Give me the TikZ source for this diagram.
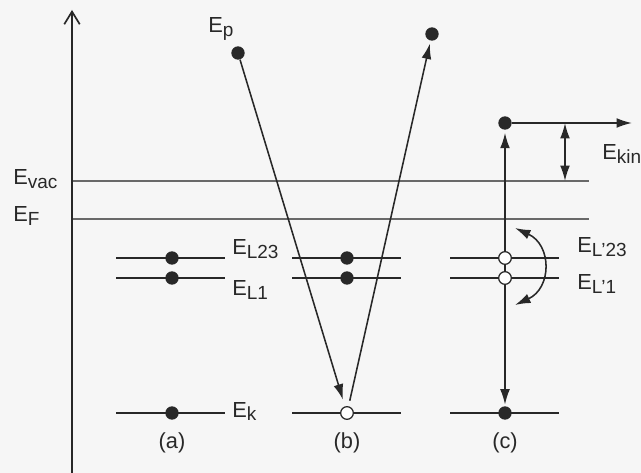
\documentclass[tikz,border=0pt]{standalone}
\usepackage{fontspec}
\setmainfont{Liberation Sans}
\usetikzlibrary{arrows.meta}
\definecolor{ink}{RGB}{40,40,40}
\definecolor{inkmuted}{RGB}{105,105,105}
\definecolor{paper}{RGB}{246,246,246}
\newcommand\lvl[1]{E\raisebox{-2.8pt}{\fontsize{13.5}{15}\selectfont #1}}

\begin{document}
\begin{tikzpicture}[x=0.025cm, y=-0.025cm, font=\fontsize{15.5}{18}\selectfont, ink,
  level/.style={line width=1.4pt},
  dot/.style={circle, fill=ink, inner sep=0pt, minimum size=9.5pt},
  hole/.style={circle, draw=ink, fill=white, line width=0.9pt, inner sep=0pt, minimum size=9pt},
  lab/.style={anchor=base west, inner sep=0pt},
  tip/.style={line width=1.1pt, -{Latex[length=11pt,width=7pt]}},
  dbl/.style={line width=1.1pt, {Latex[length=11pt,width=7pt]}-{Latex[length=11pt,width=7pt]}}]
  \fill[paper] (0,0) rectangle (641,473);
  \useasboundingbox (0,0) rectangle (641,473);
  % energy axis
  \draw[line width=1.2pt, -{Straight Barb[length=9pt,width=11pt]}] (72,473) -- (72,10);
  \draw[inkmuted, line width=0.9pt] (73,181) -- (589,181);
  \draw[inkmuted, line width=0.9pt] (73,219) -- (589,219);
  \node[lab] (vac) at (13,185) {\lvl{vac}};
  \node[lab] (fermi) at (13,222) {\lvl{F}};
  % core levels of the three steps
  \foreach \x in {116,292,450}
    \foreach \y in {258,278,413}
      \draw[level] (\x,\y) -- ++(109,0);
  \node[dot] (aL23) at (172,258) {};
  \node[dot] (aL1) at (172,278) {};
  \node[dot] (ak) at (172,413) {};
  \node[dot] (bL23) at (347,258) {};
  \node[dot] (bL1) at (347,278) {};
  \node[hole] (bk) at (347,413) {};
  \node[hole] (cL23) at (505,258) {};
  \node[hole] (cL1) at (505,278) {};
  \node[dot] (ck) at (505,413) {};
  \node[lab] (l23) at (232,255) {\lvl{L23}};
  \node[lab] (l1) at (232,296) {\lvl{L1}};
  \node[lab] (k) at (232,417) {\lvl{k}};
  \node[lab] (lp23) at (577,253) {\lvl{L'23}};
  \node[lab] (lp1) at (577,290) {\lvl{L'1}};
  % (b) primary electron in, scattered out
  \node[dot] (p) at (238,53) {};
  \node[lab] (plab) at (208,33) {\lvl{p}};
  \node[dot] (bout) at (432,34) {};
  \draw[tip, shorten >=5pt] (p) -- (bk);
  \draw[tip, shorten <=4pt, shorten >=2pt] (bk) -- (bout);
  % (c) Auger electron
  \node[dot] (cout) at (505,123) {};
  \coordinate (away) at (632,123);
  \coordinate (kintop) at (565,123);
  \coordinate (kinbot) at (565,181);
  \draw[tip, shorten >=2pt] (cL23) -- (cout);
  \draw[line width=1.1pt] (cL23) -- (cL1);
  \draw[tip, shorten >=1pt] (cL1) -- (ck);
  \draw[tip] (cout) -- (away);
  \draw[dbl] (kintop) -- (kinbot);
  \node[lab] (kin) at (602,160) {\lvl{kin}};
  \coordinate (swtop) at (515,228);
  \coordinate (swbot) at (515,305);
  \draw[dbl] (swtop) .. controls (552,245) and (552,288) .. (swbot);
  % step labels
  \node (a) at (172,443) {(a)};
  \node (b) at (347,443) {(b)};
  \node (c) at (505,443) {(c)};
\end{tikzpicture}
\end{document}
